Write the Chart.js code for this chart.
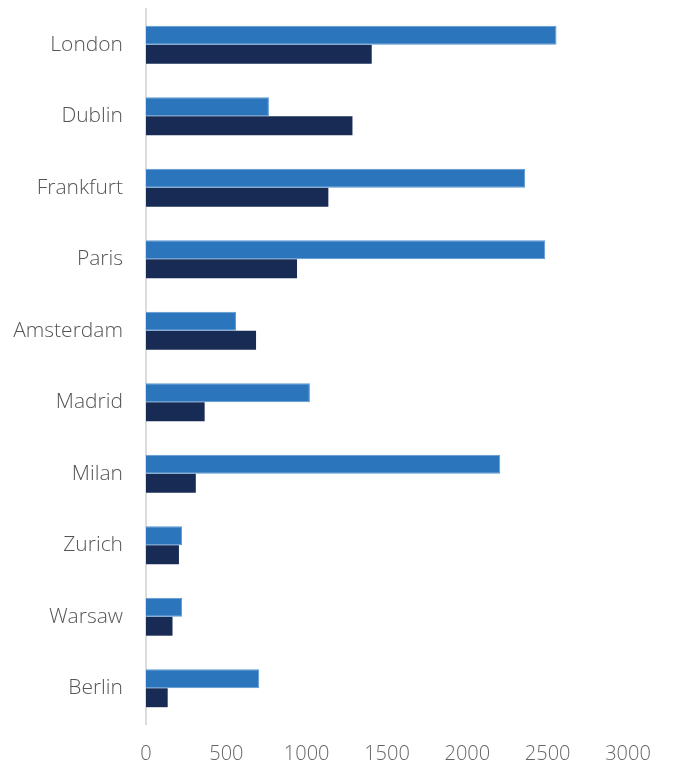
<!DOCTYPE html>
<html>
<head>
<meta charset="utf-8">
<script src="https://cdn.jsdelivr.net/npm/chart.js@4"></script>
<style>
  html, body { margin: 0; padding: 0; background: #fff; }
  #wrap { width: 675px; height: 761px; }
</style>
</head>
<body>
<div id="wrap"><canvas id="cities" width="675" height="761"></canvas></div>
<script>
const cities = ['London', 'Dublin', 'Frankfurt', 'Paris', 'Amsterdam', 'Madrid', 'Milan', 'Zurich', 'Warsaw', 'Berlin'];
const seriesLight = [2555, 765, 2360, 2485, 560, 1020, 2205, 225, 225, 705];
const seriesDark = [1405, 1285, 1135, 940, 685, 365, 310, 205, 165, 135];
const xTicks = [0, 500, 1000, 1500, 2000, 2500, 3000];

const ctx = document.getElementById('cities');

new Chart(ctx, {
  type: 'bar',
  data: {
    labels: cities,
    datasets: [{
      label: 'Series 1',
      data: seriesLight,
      backgroundColor: '#2a75bb',
      borderColor: '#5d98d2',
      borderWidth: 1,
      barPercentage: 1,
      categoryPercentage: 0.53
    }, {
      label: 'Series 2',
      data: seriesDark,
      backgroundColor: '#182b55',
      borderWidth: 0,
      barPercentage: 1,
      categoryPercentage: 0.53
    }]
  },
  options: {
    indexAxis: 'y',
    responsive: false,
    animation: false,
    layout: {
      padding: { top: 9, right: 47, bottom: 0, left: 0 }
    },
    plugins: {
      legend: { display: false },
      tooltip: { enabled: false }
    },
    scales: {
      x: {
        min: 0,
        max: 3000,
        afterBuildTicks: (scale) => {
          scale.ticks = xTicks.map(v => ({ value: v }));
        },
        afterFit: (scale) => { scale.height = 37; },
        grid: { display: false },
        border: { display: false },
        ticks: {
          padding: 10,
          color: '#666',
          font: { family: 'Open Sans, sans-serif', size: 20, weight: 300 },
          callback: (v) => String(v)
        }
      },
      y: {
        afterFit: (scale) => {
          scale.width = 146;
          scale.paddingTop = 0;
          scale.paddingBottom = 0;
        },
        grid: { display: false },
        border: { display: true, color: '#dcdcdc', width: 2 },
        ticks: {
          padding: 15,
          color: '#555',
          font: { family: 'Open Sans, sans-serif', size: 21, weight: 300 }
        }
      }
    }
  }
});
</script>
</body>
</html>
